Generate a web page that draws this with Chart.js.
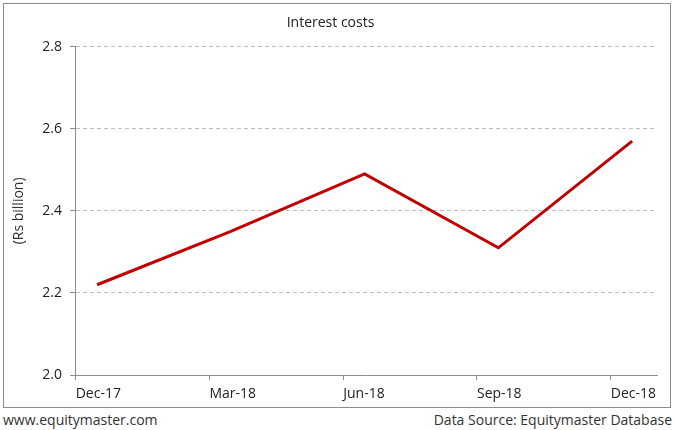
<!DOCTYPE html>
<html>
<head>
<meta charset="utf-8">
<script src="https://cdn.jsdelivr.net/npm/chart.js@4.4.0/dist/chart.umd.min.js"></script>
<style>
  body { margin: 0; background: #fff; font-family: "Open Sans", sans-serif; }
  #wrap { position: relative; width: 675px; height: 430px; }
  #box { position: absolute; left: 3px; top: 3px; width: 666px; height: 403px; border: 1px solid #8c8c8c; }
  #foot { position: absolute; left: 3px; right: 3px; top: 410px; font-size: 14px; color: #333; }
  #foot .l { position: absolute; left: 0; }
  #foot .r { position: absolute; right: 0; }
</style>
</head>
<body>
<div id="wrap">
  <div id="box"><canvas id="myChart" width="666" height="403"></canvas></div>
  <div id="foot"><span class="l">www.equitymaster.com</span><span class="r">Data Source: Equitymaster Database</span></div>
</div>
<script>
const labels = ['Dec-17', 'Mar-18', 'Jun-18', 'Sep-18', 'Dec-18'];
const interestCosts = [2.22, 2.35, 2.49, 2.31, 2.57];
const yTicks = [2.0, 2.2, 2.4, 2.6, 2.8];

// labels sit a little to the left of each point (Excel date axis look)
const tickShift = 0.16;
const axisGray = '#8c8c8c';
const fontFam = '"Open Sans", sans-serif';

const data = {
  datasets: [{
    label: 'Interest costs',
    borderColor: '#c00000',
    backgroundColor: '#c00000',
    borderWidth: 3,
    pointRadius: 0,
    tension: 0,
    data: interestCosts.map((v, i) => ({ x: i, y: v })),
  }],
};

const config = {
  type: 'line',
  data: data,
  options: {
    responsive: false,
    animation: false,
    layout: { padding: { top: 2, right: 13, bottom: 0, left: 0 } },
    plugins: {
      legend: { display: false },
      tooltip: { enabled: false },
      title: {
        display: true,
        text: 'Interest costs',
        color: '#222',
        font: { family: fontFam, size: 14, weight: 'normal' },
        padding: { top: 9, bottom: 15 }
      }
    },
    scales: {
      x: {
        type: 'linear',
        min: -0.165,
        max: 4.186,
        afterBuildTicks: (axis) => {
          axis.ticks = labels.map((l, i) => ({ value: i - tickShift }));
        },
        afterFit: (axis) => { axis.height = 32; },
        ticks: {
          align: 'start',
          padding: 6,
          color: '#222',
          font: { family: fontFam, size: 14 },
          callback: (v, idx) => labels[idx]
        },
        grid: {
          drawOnChartArea: false,
          tickLength: 5,
          tickColor: axisGray,
          tickWidth: 1
        },
        border: { color: axisGray, width: 1 }
      },
      y: {
        min: 2.0,
        max: 2.8,
        afterBuildTicks: (axis) => {
          axis.ticks = yTicks.map(v => ({ value: v }));
        },
        afterFit: (axis) => { axis.width = 71; },
        title: {
          display: true,
          text: '(Rs billion)',
          color: '#333',
          font: { family: fontFam, size: 14 },
          padding: { top: 7, bottom: 0 }
        },
        ticks: {
          padding: 8,
          color: '#222',
          font: { family: fontFam, size: 14 },
          callback: (v) => Number(v).toFixed(1)
        },
        grid: {
          color: (ctx) => ctx.tick && ctx.tick.value === 2.0 ? 'rgba(0,0,0,0)' : '#bdbdbd',
          lineWidth: 1,
          tickLength: 5,
          tickColor: axisGray,
          tickBorderDash: []
        },
        border: { color: axisGray, width: 1, dash: [4, 3] }
      }
    }
  }
};

const myChart = new Chart(
  document.getElementById('myChart'),
  config
);
</script>
</body>
</html>
